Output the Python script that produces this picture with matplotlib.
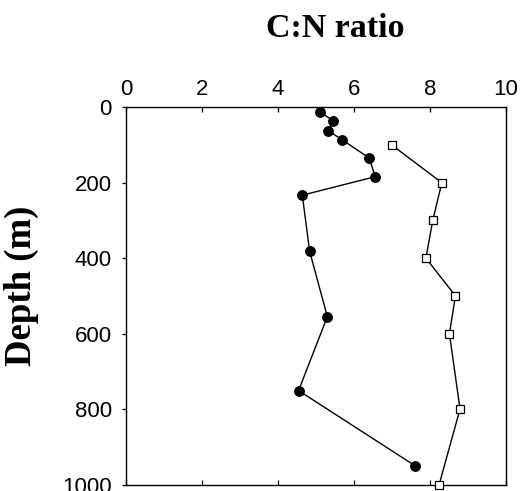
import matplotlib
matplotlib.use("Agg")
import matplotlib.pyplot as plt

# C:N ratio profiles against depth
circle_cn = [5.1, 5.46, 5.32, 5.69, 6.41, 6.56, 4.64, 4.83, 5.30, 4.54, 7.61]
circle_depth = [12, 36, 62, 86, 135, 184, 233, 381, 555, 751, 950]

square_cn = [7.0, 8.32, 8.08, 7.90, 8.68, 8.52, 8.80, 8.25]
square_depth = [100, 200, 300, 400, 500, 600, 800, 1000]

x_ticks = [0, 2, 4, 6, 8, 10]
y_ticks = [0, 200, 400, 600, 800, 1000]

fig = plt.figure(figsize=(5.22, 4.91), dpi=100)
ax = fig.add_axes([0.2423, 0.0132, 0.7261, 0.7683])

ax.plot(circle_cn, circle_depth, color="black", lw=1.0, marker="o",
        markersize=6.8, markerfacecolor="black", markeredgecolor="black",
        clip_on=False, zorder=3)
ax.plot(square_cn, square_depth, color="black", lw=1.0, marker="s",
        markersize=6.4, markerfacecolor="white", markeredgecolor="black",
        markeredgewidth=0.9, clip_on=False, zorder=3)

ax.set_xlim(0, 10)
ax.set_ylim(1000, 0)
ax.set_xticks(x_ticks)
ax.set_yticks(y_ticks)

tick_font = {"family": "Liberation Sans", "size": 16}
ax.set_xticklabels([str(v) for v in x_ticks], fontdict=tick_font)
ax.set_yticklabels([str(v) for v in y_ticks], fontdict=tick_font)

ax.xaxis.set_ticks_position("both")
ax.tick_params(axis="x", direction="in", length=3.6, width=0.9,
               labeltop=True, labelbottom=False, pad=5)
ax.tick_params(axis="y", direction="out", length=2.6, width=0.9,
               left=True, right=False, pad=8)

for s in ax.spines.values():
    s.set_linewidth(1.0)
    s.set_color("black")

fig.text(0.642, 0.925, "C:N ratio", ha="center", va="baseline",
         family="Liberation Serif", weight="bold", fontsize=24.5)
fig.text(0.042, 0.418, "Depth (m)", ha="center", va="center", rotation=90,
         family="Liberation Serif", weight="bold", fontsize=26.5)

fig.savefig("out.png", dpi=100)
